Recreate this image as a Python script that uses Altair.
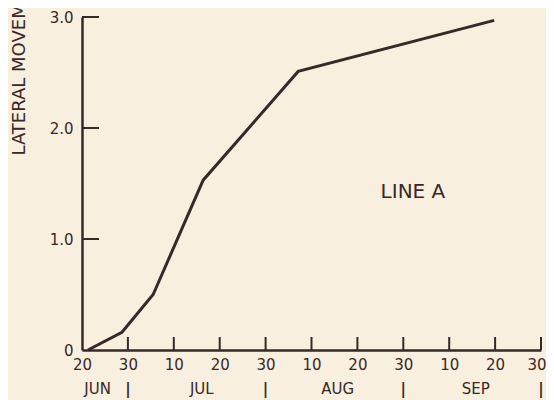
import json
import altair as alt
import pandas as pd

# ---- data ----
# x is measured in ten-day steps from 20 June (tick index 0..10)
line_x = [0.13, 0.87, 1.55, 2.64, 4.71, 8.98]
line_y = [0.0, 0.16, 0.50, 1.53, 2.51, 2.97]

x_tick_index = [0, 1, 2, 3, 4, 5, 6, 7, 8, 9, 10]
x_tick_labels = ["20", "30", "10", "20", "30", "10", "20", "30", "10", "20", "30"]
y_tick_values = [0, 1, 2, 3]

month_names = ["JUN", "JUL", "AUG", "SEP"]
month_pos = [0.34, 2.61, 5.57, 8.58]
month_end_pos = [1, 4, 7, 10]

annot_text = ["LINE A"]
annot_x = [7.21]
annot_y = [1.42]

# ---- styling ----
INK = "#382827"
BG = "#f8efdf"
FONT = "DejaVu Sans"
W, H = 459, 333

xscale = alt.Scale(domain=[0, 10], nice=False, zero=False)
yscale = alt.Scale(domain=[0, 3], nice=False, zero=False)

label_expr = "datum.value == 0 ? '0' : format(datum.value, '.1f')"
x_label_expr = json.dumps(x_tick_labels) + "[datum.value]"
last_x = x_tick_index[-1]

x_axis = alt.Axis(
    values=x_tick_index, labelExpr=x_label_expr, ticks=False, grid=False,
    domain=True, domainColor=INK, domainWidth=2.5, labelPadding=7,
    labelFont=FONT, labelFontSize=15, labelColor=INK, title=None,
    labelAlign={"condition": {"test": f"datum.value == {last_x}", "value": "right"},
                "value": "center"},
    labelOffset={"condition": {"test": f"datum.value == {last_x}", "value": 5},
                 "value": 0},
    labelOverlap=False, labelFlush=False)
y_axis = alt.Axis(
    values=y_tick_values, labelExpr=label_expr, ticks=False, grid=False,
    domain=True, domainColor=INK, domainWidth=2.5, labelPadding=9,
    labelFont=FONT, labelFontSize=15, labelColor=INK,
    labelFlush=False, labelOverlap=False,
    title="LATERAL MOVEMENT, FT", titleFont=FONT, titleFontSize=18,
    titleFontWeight="normal", titleColor=INK, titleAngle=270,
    titleAlign="left", titleBaseline="middle", titleX=-63, titleY=138)

line_df = pd.DataFrame({"x": line_x, "y": line_y})
line = alt.Chart(line_df).mark_line(color=INK, strokeWidth=3, strokeJoin="miter").encode(
    x=alt.X("x:Q", scale=xscale, axis=x_axis),
    y=alt.Y("y:Q", scale=yscale, axis=y_axis),
)

xt_df = pd.DataFrame({"x": x_tick_index[1:]})
x_ticks = alt.Chart(xt_df).mark_rule(color=INK, strokeWidth=2).encode(
    x=alt.X("x:Q", scale=xscale, axis=x_axis),
    y=alt.value(H), y2=alt.value(H - 13),
)

yt_df = pd.DataFrame({"y": y_tick_values[1:]})
y_ticks = alt.Chart(yt_df).mark_rule(color=INK, strokeWidth=2).encode(
    y=alt.Y("y:Q", scale=yscale, axis=y_axis),
    x=alt.value(0), x2=alt.value(17),
)

month_df = pd.DataFrame({"x": month_pos, "t": month_names})
months = alt.Chart(month_df).mark_text(
    font=FONT, fontSize=15, color=INK, baseline="middle", align="center"
).encode(
    x=alt.X("x:Q", scale=xscale, axis=x_axis), y=alt.value(H + 39), text="t:N"
)

sep_df = pd.DataFrame({"x": month_end_pos, "t": ["|"] * len(month_end_pos)})
seps = alt.Chart(sep_df).mark_text(
    font=FONT, fontSize=15, fontWeight="bold", color=INK, baseline="middle", align="center"
).encode(
    x=alt.X("x:Q", scale=xscale, axis=x_axis), y=alt.value(H + 39), text="t:N"
)

annot_df = pd.DataFrame({"x": annot_x, "y": annot_y, "t": annot_text})
annot = alt.Chart(annot_df).mark_text(
    font=FONT, fontSize=20, color=INK, baseline="middle", align="center"
).encode(
    x=alt.X("x:Q", scale=xscale, axis=x_axis),
    y=alt.Y("y:Q", scale=yscale, axis=y_axis),
    text="t:N",
)

chart = alt.layer(line, x_ticks, y_ticks, months, seps, annot).properties(
    width=W, height=H,
    autosize=alt.AutoSizeParams(type="none"),
    padding={"left": 74, "top": 9, "right": 5, "bottom": 50},
    background=BG,
).configure_view(stroke=None)

chart.save("out.html", embed_options={"renderer": "svg", "actions": False})
